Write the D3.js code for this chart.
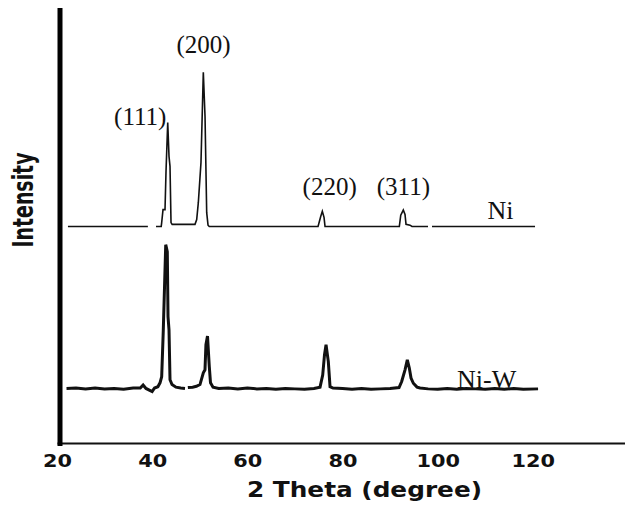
<!DOCTYPE html>
<html>
<head>
<meta charset="utf-8">
<script src="https://cdn.jsdelivr.net/npm/d3@7"></script>
<style>
  body { margin: 0; background: #fff; }
</style>
</head>
<body>
<script>
var width = 625,
    height = 505;

// x tick labels
var xTicks = [20, 40, 60, 80, 100, 120];

// Ni pattern : 2theta (deg) and intensity (a.u., above its own baseline), null = gap
var niTheta  = [22.3, 39.1, 39.15, 40.8, 41.9, 42.0, 42.28, 42.7, 42.91, 43.27, 43.54, 43.75, 43.96, 44.2, 49.0,
                49.36, 49.7, 50.26, 50.75, 51.11, 51.46, 51.74, 52.0, 74.86, 75.42, 75.76, 76.12, 76.33,
                91.94, 92.24, 92.78, 93.14, 93.35, 94.19, 94.6, 97.97, 98.0, 98.81, 120.46];
var niCounts = [0, 0, null, 0, 0, 0.9, 3.9, 3.9, 12.7, 24.0, 16.2, 13.9, 0.9, 0.5, 0.5,
                1.6, 5.5, 14.8, 35.6, 25.4, 3.2, 0.3, 0, 0, 2.3, 3.5, 2.1, 0,
                0, 2.6, 3.8, 2.8, 0.5, 0.3, 0, 0, null, 0, 0];

// Ni-W pattern
var nwTheta  = [22.0, 24, 26, 28, 30, 32, 34, 36, 37.5, 38.1, 38.7, 40.0, 40.5, 41.2, 41.65, 42.0, 42.34, 42.85,
                43.18, 43.33, 43.54, 43.75, 44.17, 45, 46, 46.9, 46.95, 47.5, 48.5, 49.3, 50.05, 50.75, 51.1,
                51.3, 51.63, 52.01, 52.26, 52.79, 54, 56, 58, 60, 62, 64, 66, 68, 70, 72, 74, 75.28, 75.84,
                76.22, 76.54, 76.81, 77.02, 77.38, 78, 80, 82, 84, 86, 88, 90, 91.88, 92.44, 93.14, 93.62,
                94.04, 94.4, 94.89, 95.66, 96.3, 98, 100, 102, 104, 106, 108, 110, 112, 114, 116, 118, 121.1];
var nwCounts = [0.1, 0.2, 0, 0.2, 0, 0.1, -0.1, 0.2, 0.2, 0.9, 0.1, -0.6, 0.2, 0.5, 1.4, 2.8, 13.6, 33.3,
                31.7, 16.7, 13.6, 2.1, 1.0, 0.4, 0.2, 0.1, null, 0.3, 0.4, 0.6, 1.0, 3.7, 4.4,
                10.2, 12.2, 5.1, 1.4, 0.4, 0.1, 0.2, 0, 0.2, 0, 0.1, -0.1, 0.1, 0, -0.1, 0.1, 0.4, 3.2,
                7.9, 10.2, 8.0, 6.3, 0.5, 0.2, 0.1, -0.1, 0.1, -0.1, 0, 0.1, 0.3, 1.7, 4.4, 6.7,
                4.8, 2.5, 1.3, 0.4, 0.2, 0, -0.1, 0.1, -0.1, 0.1, 0, -0.1, 0.1, -0.1, 0.1, -0.1, 0];

// vertical offsets of the two patterns
var niOffset = 50,
    nwOffset = 12.5;

// peak labels (hkl), placed in data units
var hkl      = ["(111)", "(200)", "(220)", "(311)"];
var hklTheta = [37.5, 50.8, 77.3, 92.8];
var hklY     = [73.4, 90.1, 57.3, 57.3];

var svg = d3.select("body")
    .append("svg")
    .attr("width", width)
    .attr("height", height);

var x = d3.scaleLinear().domain([20, 140]).range([57, 628]);
var y = d3.scaleLinear().domain([0, 100]).range([443, 10]);

function toPoints(theta, counts) {
    return theta.map(function (t, i) { return { t: t, c: counts[i] }; });
}

function lineFor(offset) {
    return d3.line()
        .defined(function (d) { return d.c != null; })
        .x(function (d) { return x(d.t); })
        .y(function (d) { return y(d.c + offset); });
}

// axe du bas
var gx = svg.append("g")
    .attr("transform", "translate(0," + y(0) + ")")
    .call(d3.axisBottom(x).tickValues(xTicks).tickSize(0).tickSizeOuter(0).tickPadding(12));
gx.select(".domain").attr("stroke", "#111").attr("stroke-width", 2);
gx.selectAll("text")
    .attr("font-family", "DejaVu Sans, sans-serif")
    .attr("font-weight", "bold")
    .attr("font-size", 17)
    .attr("fill", "#111")
    .attr("textLength", function (d) { return String(d).length * 14.5; })
    .attr("lengthAdjust", "spacingAndGlyphs");

// axe de gauche (epais, sans graduations)
var gy = svg.append("g")
    .attr("transform", "translate(" + (x(20) + 2.5) + ",0)")
    .call(d3.axisLeft(y).tickValues([]).tickSizeOuter(0));
gy.select(".domain")
    .attr("stroke", "#000")
    .attr("stroke-width", 5)
    .attr("stroke-linecap", "square");

// courbes
svg.append("path")
    .datum(toPoints(niTheta, niCounts))
    .attr("fill", "none")
    .attr("stroke", "#111")
    .attr("stroke-width", 1.6)
    .attr("d", lineFor(niOffset));

svg.append("path")
    .datum(toPoints(nwTheta, nwCounts))
    .attr("fill", "none")
    .attr("stroke", "#111")
    .attr("stroke-width", 3)
    .attr("d", lineFor(nwOffset));

// etiquettes des pics
svg.selectAll(".hkl")
    .data(hkl)
    .join("text")
    .attr("class", "hkl")
    .attr("x", function (d, i) { return x(hklTheta[i]); })
    .attr("y", function (d, i) { return y(hklY[i]); })
    .attr("text-anchor", "middle")
    .attr("font-family", "Liberation Serif, Times New Roman, serif")
    .attr("font-size", 25)
    .attr("fill", "#111")
    .text(function (d) { return d; });

// noms des echantillons
svg.append("text")
    .attr("x", x(113.2))
    .attr("y", y(niOffset) - 8)
    .attr("text-anchor", "middle")
    .attr("font-family", "Liberation Serif, Times New Roman, serif")
    .attr("font-size", 26)
    .attr("fill", "#111")
    .text("Ni");

svg.append("text")
    .attr("x", x(110.3))
    .attr("y", y(nwOffset) - 1)
    .attr("text-anchor", "middle")
    .attr("font-family", "Liberation Serif, Times New Roman, serif")
    .attr("font-size", 26)
    .attr("fill", "#111")
    .text("Ni-W");

// titres des axes
svg.append("text")
    .attr("transform", "translate(33,200) rotate(-90)")
    .attr("text-anchor", "middle")
    .attr("font-family", "Liberation Sans Narrow, DejaVu Sans Condensed, sans-serif")
    .attr("font-weight", "bold")
    .attr("font-size", 28)
    .attr("fill", "#111")
    .attr("textLength", 95)
    .attr("lengthAdjust", "spacingAndGlyphs")
    .text("Intensity");

svg.append("text")
    .attr("x", 364.5)
    .attr("y", 497)
    .attr("text-anchor", "middle")
    .attr("font-family", "DejaVu Sans, sans-serif")
    .attr("font-weight", "bold")
    .attr("font-size", 22)
    .attr("fill", "#111")
    .attr("textLength", 235)
    .attr("lengthAdjust", "spacingAndGlyphs")
    .text("2 Theta (degree)");
</script>
</body>
</html>
